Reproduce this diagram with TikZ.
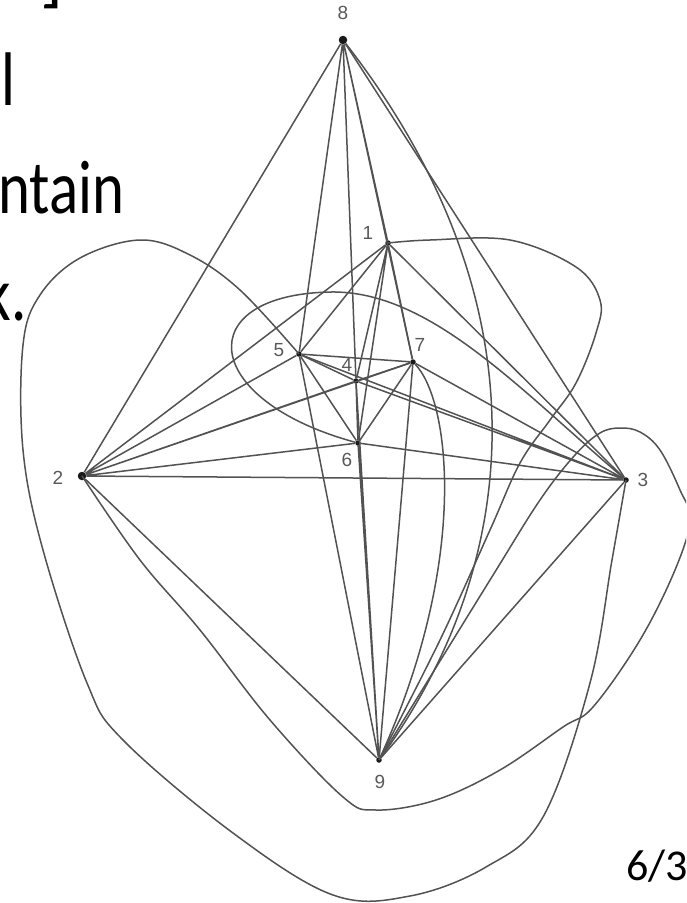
\documentclass[tikz,border=0pt]{standalone}
\usepackage{fontspec}
\setmainfont{Carlito}
\newfontfamily\lblfont{Liberation Sans}
\usetikzlibrary{positioning}

\begin{document}
\begin{tikzpicture}[x=1pt, y=-1pt,
  vtx/.style   = {circle, fill=black!90, inner sep=0pt, minimum size=5.5pt},
  big/.style   = {minimum size=8.5pt},
  lbl/.style   = {text=black!65, font=\lblfont\fontsize{19}{19}\selectfont, inner sep=0pt},
  lnk/.style   = {draw=black!68, line width=1.5pt},
  slide/.style = {font=\fontsize{76}{80}\selectfont, inner sep=0pt}
]
\useasboundingbox (0,0) rectangle (686,903);
\clip (0,0) rectangle (686,903);

%--- Slide text behind the figure ---
\node[slide, anchor=south]     (brk)  at (52,9)    {]};
\node[slide, anchor=base east] (wd1)  at (16,105)  {\scalebox{0.8}[1]{l}};
\node[slide, anchor=base west] (wd2)  at (-2,213)  {\scalebox{0.8}[1]{ntain}};
\node[slide, anchor=base east] (wd3)  at (27,320)  {\scalebox{0.8}[1]{k.}};
\node[font=\fontsize{44}{46}\selectfont, inner sep=0pt, anchor=base east] (pg) at (688,880) {6/3};

%--- Vertices ---
\node[vtx, big] (v8) at (343,40)  {};
\node[vtx]      (v1) at (388,243) {};
\node[vtx]      (v5) at (299,354) {};
\node[vtx]      (v7) at (413,362) {};
\node[vtx]      (v4) at (356,381) {};
\node[vtx]      (v6) at (358,443) {};
\node[vtx, big] (v2) at (82,476)  {};
\node[vtx]      (v3) at (626,480) {};
\node[vtx]      (v9) at (379,760) {};

% labels
\node[lbl] (l8) at ([yshift=27pt]v8)              {8};
\node[lbl] (l1) at ([xshift=-20pt,yshift=10pt]v1) {1};
\node[lbl] (l5) at ([xshift=-20pt,yshift=4pt]v5)  {5};
\node[lbl] (l7) at ([xshift=7pt,yshift=17pt]v7)   {7};
\node[lbl] (l4) at ([xshift=-9pt,yshift=16pt]v4)  {4};
\node[lbl] (l6) at ([xshift=-11pt,yshift=-17pt]v6){6};
\node[lbl] (l2) at ([xshift=-24pt,yshift=-2pt]v2) {2};
\node[lbl] (l3) at ([xshift=17pt]v3)              {3};
\node[lbl] (l9) at ([xshift=1pt,yshift=-22pt]v9)  {9};

%--- Straight edges ---
\draw[lnk] (v8) -- (v2)  (v8) -- (v5)  (v8) -- (v4)  (v8) -- (v1)  (v8) -- (v7)  (v8) -- (v3);
\draw[lnk] (v2) -- (v1)  (v2) -- (v5)  (v2) -- (v4)  (v2) -- (v7)  (v2) -- (v6)  (v2) -- (v3)  (v2) -- (v9);
\draw[lnk] (v3) -- (v1)  (v3) -- (v7)  (v3) -- (v4)  (v3) -- (v5)  (v3) -- (v6)  (v3) -- (v9);
\draw[lnk] (v9) -- (v5)  (v9) -- (v4)  (v9) -- (v6)  (v9) -- (v7);
\draw[lnk] (v1) -- (v5)  (v1) -- (v7)  (v1) -- (v4)  (v1) -- (v6);
\draw[lnk] (v5) -- (v7)  (v5) -- (v4)  (v5) -- (v6)  (v4) -- (v7)  (v4) -- (v6)  (v6) -- (v7);

%--- Curved edges ---
% 8 -> 9, bending right of 7
\draw[lnk] (v8) .. controls (545,300) and (525,560) .. (v9);
% 7 -> 9
\draw[lnk] (v7) .. controls (450,400) and (470,560) .. (v9);
% 1 -> 9, loop on the right
\draw[lnk] plot[smooth, tension=0.6] coordinates {(v1) (430,240) (510,240) (576,267) (600,300) (596,333) (576,383) (550,420) (520,463) (490,530) (440,640) (v9)};
% 3 -> 6, oval round 5, 4, 7
\draw[lnk] (v3) .. controls (520,390) and (430,290) .. (330,292) .. controls (190,295) and (200,400) .. (v6);
% 3 -> 5, outer loop
\draw[lnk] plot[smooth, tension=0.6] coordinates {(v3) (612,560) (590,683) (543,817) (486,867) (410,896) (333,895) (233,833) (123,740) (87,683) (43,550) (23,450) (23,345) (40,295) (80,258) (140,240) (190,255) (240,290) (v5)};
% 2 -> 9, under 9 and round 3
\draw[lnk] plot[smooth, tension=0.6] coordinates {(v2) (140,560) (200,630) (270,720) (343,797) (376,810) (436,800) (500,770) (563,727) (593,707) (640,640) (675,570) (690,520) (680,490) (660,450) (640,432) (620,428) (600,433) (575,455) (540,500) (490,580) (v9)};

\end{tikzpicture}
\end{document}
